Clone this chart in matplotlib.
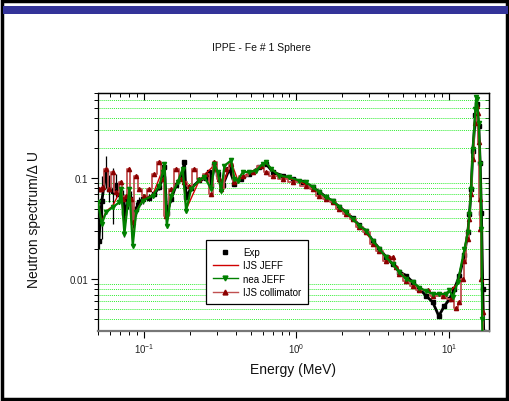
import matplotlib
matplotlib.use("Agg")
import matplotlib.pyplot as plt
from matplotlib.patches import Rectangle
from matplotlib.lines import Line2D
from matplotlib.ticker import LogLocator, NullFormatter

plt.rcParams['font.family'] = ['Liberation Sans', 'DejaVu Sans']
plt.rcParams['mathtext.fontset'] = 'custom'
plt.rcParams['mathtext.rm'] = 'Liberation Sans'

title = "IPPE - Fe # 1 Sphere"
xlabel = "Energy (MeV)"
ylabel = "Neutron spectrum/\u0394 U"

# ---- Exp (measurement) ----
exp_E = [0.0506, 0.053, 0.0565, 0.0594, 0.0624, 0.0657, 0.0691, 0.0726, 0.0745, 0.0783,
         0.0824, 0.0845, 0.0889, 0.0934, 0.0982, 0.1086, 0.1172, 0.1264, 0.1328, 0.1362,
         0.1412, 0.1508, 0.1626, 0.1753, 0.1845, 0.1891, 0.204, 0.2312, 0.2558, 0.2689,
         0.2759, 0.2899, 0.3048, 0.3288, 0.3637, 0.3922, 0.4337, 0.4918, 0.572, 0.6324,
         0.6992, 0.8134, 0.946, 1.10, 1.279, 1.415, 1.566, 1.73, 1.914, 2.118,
         2.34, 2.588, 2.864, 3.165, 3.501, 3.874, 4.279, 4.734, 5.238, 5.791,
         6.406, 7.087, 7.826, 8.575, 9.339, 10.07, 10.86, 11.71, 12.64, 13.29,
         13.63, 13.98, 14.33, 14.92, 15.22, 15.68, 16.02, 16.33, 16.66, 16.9]
exp_v = [0.024, 0.060, 0.115, 0.078, 0.075, 0.085, 0.070, 0.062, 0.045, 0.060,
         0.062, 0.040, 0.050, 0.058, 0.062, 0.064, 0.070, 0.082, 0.100, 0.130,
         0.045, 0.062, 0.085, 0.100, 0.145, 0.065, 0.080, 0.095, 0.100, 0.115,
         0.085, 0.135, 0.110, 0.085, 0.124, 0.088, 0.098, 0.110, 0.128, 0.139,
         0.115, 0.106, 0.098, 0.0912, 0.082, 0.073, 0.065, 0.059, 0.052, 0.046,
         0.040, 0.034, 0.030, 0.024, 0.020, 0.0165, 0.014, 0.0118, 0.0108, 0.0093,
         0.0080, 0.0068, 0.0059, 0.0043, 0.0054, 0.0063, 0.0080, 0.0108, 0.0175, 0.029,
         0.044, 0.078, 0.188, 0.42, 0.55, 0.33, 0.14, 0.045, 0.008, 0.003]
# error bars of the first (low-energy) points
exp_err_lo = [0.004, 0.035, 0.035, 0.02, 0.04, 0.02, 0.015, 0.012, 0.019, 0.01,
              0.01, 0.008, 0.008, 0.006, 0.006, 0.005, 0.005, 0.005, 0.006, 0.008,
              0.004, 0.004, 0.004, 0.005, 0.006, 0.004, 0.004]
exp_err_hi = [0.004, 0.045, 0.05, 0.03, 0.05, 0.025, 0.02, 0.015, 0.02, 0.012,
              0.012, 0.01, 0.008, 0.007, 0.007, 0.005, 0.005, 0.005, 0.006, 0.01,
              0.004, 0.004, 0.004, 0.005, 0.006, 0.004, 0.004]

# ---- IJS JEFF ----
ijs_E = [0.050, 0.0529, 0.0565, 0.0624, 0.0709, 0.0745, 0.0803, 0.0845, 0.0889, 0.0982,
         0.1142, 0.1362, 0.1412, 0.1508, 0.1796, 0.1891, 0.2312, 0.2899, 0.3208, 0.373,
         0.4122, 0.4918, 0.6324, 0.774, 1.046, 1.415, 1.914, 2.588, 3.501, 4.734,
         5.791, 7.087, 8.65, 10.07, 11.42, 12.64, 13.63, 14.33, 14.92, 15.22,
         15.68, 16.02, 16.33, 16.7]
ijs_v = [0.060, 0.037, 0.047, 0.053, 0.078, 0.030, 0.078, 0.023, 0.047, 0.061,
         0.068, 0.135, 0.035, 0.068, 0.120, 0.049, 0.096, 0.135, 0.076, 0.145,
         0.096, 0.113, 0.140, 0.105, 0.093, 0.072, 0.051, 0.034, 0.0199, 0.0116,
         0.0092, 0.0075, 0.0070, 0.0075, 0.0090, 0.0190, 0.043, 0.190, 0.45, 0.55,
         0.33, 0.13, 0.030, 0.003]

# ---- nea JEFF ----
nea_E = [0.050, 0.0529, 0.0565, 0.0624, 0.0691, 0.0709, 0.0745, 0.0783, 0.0803, 0.0845,
         0.0889, 0.0982, 0.1142, 0.1264, 0.1328, 0.1362, 0.1412, 0.1508, 0.1666, 0.1796,
         0.1891, 0.204, 0.2312, 0.249, 0.2759, 0.2899, 0.3048, 0.3208, 0.3373, 0.373,
         0.3922, 0.4122, 0.4447, 0.4918, 0.5441, 0.6015, 0.6324, 0.6823, 0.774, 0.90,
         1.046, 1.158, 1.279, 1.415, 1.566, 1.73, 1.914, 2.118, 2.34, 2.588,
         2.864, 3.165, 3.501, 3.874, 4.279, 4.734, 5.238, 5.791, 6.406, 7.087,
         7.826, 8.65, 9.586, 10.07, 10.59, 11.42, 12.64, 13.29, 13.63, 13.98,
         14.33, 14.92, 15.08, 15.22, 15.68, 16.02, 16.33, 16.5, 16.6]
nea_v = [0.0578, 0.0352, 0.0459, 0.0515, 0.0578, 0.0783, 0.028, 0.0556, 0.0783, 0.0214,
         0.0459, 0.060, 0.0671, 0.0845, 0.115, 0.139, 0.0338, 0.0671, 0.0912, 0.124,
         0.0477, 0.0783, 0.095, 0.103, 0.0783, 0.139, 0.115, 0.075, 0.133, 0.150,
         0.0984, 0.0946, 0.115, 0.115, 0.119, 0.139, 0.144, 0.124, 0.106, 0.102,
         0.0946, 0.0912, 0.0814, 0.0726, 0.0647, 0.060, 0.0515, 0.0459, 0.0394, 0.0338,
         0.0302, 0.024, 0.0199, 0.0164, 0.0141, 0.0117, 0.0100, 0.0093, 0.0082, 0.0076,
         0.0071, 0.0071, 0.0071, 0.0077, 0.0066, 0.0093, 0.0199, 0.029, 0.044, 0.078,
         0.195, 0.49, 0.64, 0.61, 0.35, 0.139, 0.031, 0.004, 0.0022]

# ---- IJS collimator ----
col_E = [0.0505, 0.0524, 0.0537, 0.0565, 0.0594, 0.0624, 0.0657, 0.0709, 0.0726, 0.0764,
         0.0795, 0.0824, 0.0845, 0.0889, 0.0934, 0.1008, 0.1086, 0.1172, 0.1264, 0.1328,
         0.1399, 0.1508, 0.1626, 0.1753, 0.1845, 0.1988, 0.2144, 0.2312, 0.2558, 0.2759,
         0.2899, 0.3126, 0.3208, 0.3459, 0.373, 0.3922, 0.4447, 0.5169, 0.5866, 0.6324,
         0.6992, 0.8134, 0.946, 1.158, 1.279, 1.415, 1.566, 1.73, 1.914, 2.118,
         2.34, 2.588, 2.864, 3.165, 3.501, 3.874, 4.07, 4.279, 4.5, 4.734,
         5.238, 5.791, 6.406, 7.258, 7.826, 9.107, 10.34, 11.14, 11.71, 12.32,
         12.64, 13.29, 13.63, 13.98, 14.33, 14.92, 15.22, 15.45, 15.65, 15.9,
         16.0, 16.3, 16.66, 17.0]
col_v = [0.0783, 0.0783, 0.0814, 0.124, 0.0783, 0.115, 0.0726, 0.0912, 0.0622, 0.0671,
         0.124, 0.0622, 0.0366, 0.106, 0.0783, 0.0671, 0.0783, 0.110, 0.144, 0.0984,
         0.0426, 0.0783, 0.124, 0.0984, 0.0912, 0.0845, 0.124, 0.0984, 0.110, 0.0698,
         0.144, 0.0984, 0.0783, 0.124, 0.139, 0.0912, 0.106, 0.115, 0.133, 0.115,
         0.106, 0.0984, 0.0912, 0.0845, 0.0783, 0.0671, 0.0622, 0.0578, 0.0496, 0.044,
         0.0394, 0.0328, 0.0291, 0.0222, 0.019, 0.0151, 0.0164, 0.0164, 0.0131, 0.0113,
         0.0095, 0.0085, 0.0078, 0.0077, 0.0068, 0.0068, 0.0063, 0.0052, 0.0059, 0.0100,
         0.0151, 0.025, 0.0394, 0.0698, 0.156, 0.35, 0.526, 0.44, 0.23, 0.062,
         0.031, 0.010, 0.0047, 0.0019]

legend_labels = ["Exp", "IJS JEFF", "nea JEFF", "IJS collimator"]

C_EXP = 'black'
C_IJS = '#d00000'
C_NEA = '#008000'
C_COL = '#8b0000'
C_COL_LINE = '#c05050'
C_GRID = '#33ee33'

fig = plt.figure(figsize=(5.1, 4.02), dpi=100)
fig.patch.set_facecolor('white')

# slide frame and top bar
fig.patches.append(Rectangle((0.004, 0.006), 0.99, 0.988, transform=fig.transFigure,
                             fill=False, edgecolor='black', lw=2.5, zorder=0))
fig.patches.append(Rectangle((0.006, 1 - 15 / 402), 0.99, 8 / 402, transform=fig.transFigure,
                             facecolor='#333399', edgecolor='none', zorder=1))

ax = fig.add_axes([98 / 510, 1 - 332 / 402, 391 / 510, 238 / 402])
ax.set_xscale('log')
ax.set_yscale('log')
ax.set_xlim(0.05, 18.3)
ax.set_ylim(0.00305, 0.70)

# grid at minor y ticks
ax.yaxis.grid(True, which='minor', color=C_GRID, linestyle=(0, (1, 1)), lw=0.7, zorder=0)
ax.yaxis.grid(False, which='major')
ax.xaxis.grid(False)

# data
ax.plot(exp_E, exp_v, color=C_EXP, lw=2.0, zorder=2)
n_err = len(exp_err_lo)
ax.errorbar(exp_E[:n_err], exp_v[:n_err], yerr=[exp_err_lo, exp_err_hi], fmt='none',
            ecolor=C_EXP, elinewidth=0.9, capsize=0, zorder=2)
ax.plot(exp_E, exp_v, 's', color=C_EXP, ms=3, zorder=2)
ax.plot(ijs_E, ijs_v, color=C_IJS, lw=1.0, zorder=2.2)
ax.plot(col_E, col_v, color=C_COL_LINE, lw=1.3, zorder=2.4, drawstyle='steps-mid')
ax.plot(col_E, col_v, '^', color=C_COL, ms=3, zorder=2.45)
ax.plot(nea_E, nea_v, color=C_NEA, lw=1.6, zorder=2.6)
ax.plot(nea_E, nea_v, 'v', color=C_NEA, ms=3, zorder=2.65)

# ticks
ax.xaxis.set_major_locator(LogLocator(base=10, numticks=10))
ax.xaxis.set_minor_locator(LogLocator(base=10, subs=range(2, 10), numticks=20))
ax.xaxis.set_minor_formatter(NullFormatter())
ax.yaxis.set_major_locator(LogLocator(base=10, numticks=10))
ax.yaxis.set_minor_locator(LogLocator(base=10, subs=range(2, 10), numticks=20))
ax.yaxis.set_minor_formatter(NullFormatter())
ax.set_yticks([0.01, 0.1])
ax.set_yticklabels(['0.01', '0.1'])
ax.tick_params(which='major', direction='out', length=5, width=0.8, labelsize=7, colors='black',
               labelcolor='#222222', pad=2)
ax.tick_params(which='minor', direction='out', length=3, width=0.7)

secx = ax.secondary_xaxis('top')
secx.xaxis.set_major_locator(LogLocator(base=10, numticks=10))
secx.xaxis.set_minor_locator(LogLocator(base=10, subs=range(2, 10), numticks=20))
secx.tick_params(which='major', direction='in', length=5, width=0.8, labeltop=False)
secx.tick_params(which='minor', direction='in', length=3, width=0.7)
secx.xaxis.set_minor_formatter(NullFormatter())
secy = ax.secondary_yaxis('right')
secy.yaxis.set_major_locator(LogLocator(base=10, numticks=10))
secy.yaxis.set_minor_locator(LogLocator(base=10, subs=range(2, 10), numticks=20))
secy.tick_params(which='major', direction='in', length=5, width=0.8, labelright=False)
secy.tick_params(which='minor', direction='in', length=3, width=0.7)
secy.yaxis.set_minor_formatter(NullFormatter())

for s in ['left', 'top', 'right']:
    ax.spines[s].set_linewidth(0.9)
ax.spines['bottom'].set_color('#777777')
ax.spines['bottom'].set_linewidth(1.6)
secx.spines['top'].set_linewidth(0.9)
secy.spines['right'].set_linewidth(0.9)

# legend
handles = [
    Line2D([], [], color=C_EXP, marker='s', ms=3.5, linestyle='none'),
    Line2D([], [], color=C_IJS, lw=1.0),
    Line2D([], [], color=C_NEA, lw=1.0, marker='v', ms=3.5),
    Line2D([], [], color=C_COL_LINE, lw=1.0, marker='^', ms=3.5, mfc=C_COL, mec=C_COL),
]
leg = ax.legend(handles, legend_labels, loc='lower left', bbox_to_anchor=(0.276, 0.113),
                fontsize=7, frameon=True, fancybox=False, framealpha=1, edgecolor='black',
                handlelength=2.6, handletextpad=0.5, labelspacing=0.35, borderpad=0.7,
                borderaxespad=0)
leg.get_frame().set_linewidth(0.9)
leg.set_zorder(5)

# texts
fig.text(261 / 510, 1 - 48 / 402, title, ha='center', va='center', fontsize=7.5, color='#111111')
fig.text(293 / 510, 1 - 370 / 402, xlabel, ha='center', va='center', fontsize=10, color='#111111')
fig.text(34 / 510, 1 - 220 / 402, ylabel, ha='center', va='center', rotation=90, fontsize=10,
         color='#111111')

fig.savefig('out.png', dpi=100)
